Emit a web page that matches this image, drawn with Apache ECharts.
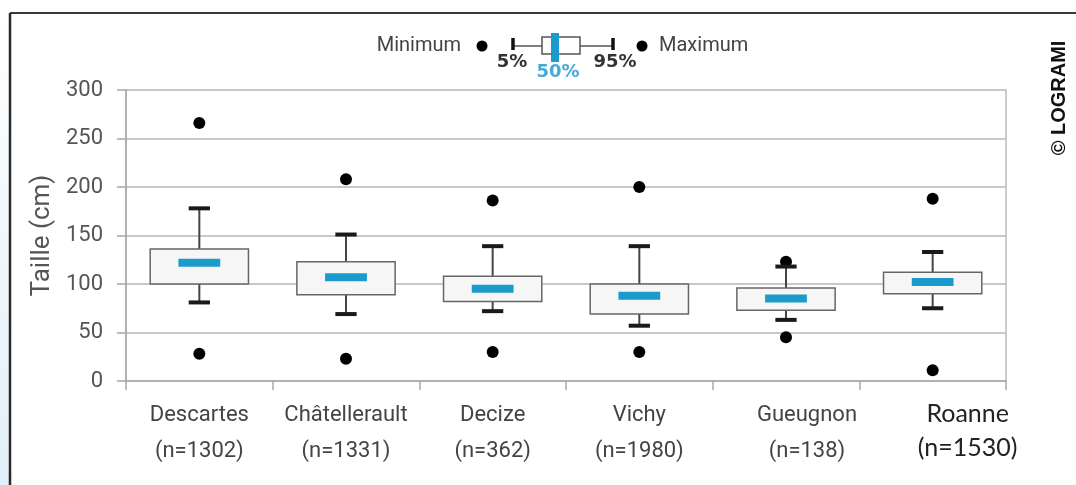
<!DOCTYPE html>
<html>
<head>
<meta charset="utf-8">
<script src="https://cdn.jsdelivr.net/npm/echarts@6/dist/echarts.min.js"></script>
<style>
html,body{margin:0;padding:0;background:#fff;}
#chart{width:1076px;height:485px;}
</style>
</head>
<body>
<div id="chart"></div>
<script>
// ---- data ----
var sites = ['Descartes', 'Châtellerault', 'Decize', 'Vichy', 'Gueugnon', 'Roanne'];
var counts = ['(n=1302)', '(n=1331)', '(n=362)', '(n=1980)', '(n=138)', '(n=1530)'];
var p5     = [81, 69, 72, 57, 63, 75];
var q25    = [100, 89, 82, 69, 73, 90];
var median = [122, 107, 95, 88, 85, 102];
var q75    = [136, 123, 108, 100, 96, 112];
var p95    = [178, 151, 139, 139, 118, 133];
var minimum = [28, 23, 30, 30, 45, 11];
var maximum = [266, 208, 186, 200, 123, 188];
var yTicks = [0, 50, 100, 150, 200, 250, 300];

var boxData = sites.map(function (s, i) {
  return [i, p5[i], q25[i], median[i], q75[i], p95[i]];
});
var dotData = [];
sites.forEach(function (s, i) {
  dotData.push([i, minimum[i]]);
  dotData.push([i, maximum[i]]);
});

var chart = echarts.init(document.getElementById('chart'), null, {renderer: 'canvas'});

function renderBox(params, api) {
  var idx = api.value(0);
  var lo = api.coord([idx, api.value(1)]);
  var q1 = api.coord([idx, api.value(2)]);
  var md = api.coord([idx, api.value(3)]);
  var q3 = api.coord([idx, api.value(4)]);
  var hi = api.coord([idx, api.value(5)]);
  var band = api.size([1, 0])[0];
  var cx = lo[0];
  var bw = band * 0.67, mw = band * 0.285, cw = band * 0.145;
  var wStyle = {stroke: '#444', lineWidth: 2};
  var cStyle = {stroke: '#1a1a1a', lineWidth: 4};
  return {
    type: 'group',
    children: [
      {type: 'line', shape: {x1: cx, y1: lo[1], x2: cx, y2: q1[1]}, style: wStyle},
      {type: 'line', shape: {x1: cx, y1: q3[1], x2: cx, y2: hi[1]}, style: wStyle},
      {type: 'line', shape: {x1: cx - cw / 2, y1: lo[1], x2: cx + cw / 2, y2: lo[1]}, style: cStyle},
      {type: 'line', shape: {x1: cx - cw / 2, y1: hi[1], x2: cx + cw / 2, y2: hi[1]}, style: cStyle},
      {type: 'rect', shape: {x: cx - bw / 2, y: q3[1], width: bw, height: q1[1] - q3[1]},
        style: {fill: '#f6f6f6', stroke: '#666', lineWidth: 1.5}},
      {type: 'rect', shape: {x: cx - mw / 2, y: md[1] - 4, width: mw, height: 8},
        style: {fill: '#1a9bc9'}}
    ]
  };
}

var legendY = 46;
var option = {
  backgroundColor: '#ffffff',
  animation: false,
  grid: {left: 126, right: 70, top: 90, bottom: 104, show: true, borderColor: '#bbbbbb', borderWidth: 1.5, backgroundColor: 'transparent'},
  xAxis: {
    type: 'category',
    data: sites,
    boundaryGap: true,
    axisLine: {lineStyle: {color: '#a8a8a8', width: 1.5}},
    axisTick: {show: true, length: 9, lineStyle: {color: '#a8a8a8', width: 1.5}},
    axisLabel: {
      interval: 0,
      margin: 16,
      fontSize: 22,
      lineHeight: 36,
      fontFamily: 'Roboto',
      color: '#444',
      formatter: function (v, i) {
        if (v === 'Roanne') return '{r|' + v + '}\n{r|' + counts[i] + '}';
        if (v === 'Gueugnon') return '{g|' + v + '}\n{g|' + counts[i] + '}';
        return v + '\n' + counts[i];
      },
      rich: {
        r: {fontSize: 25, lineHeight: 34, fontFamily: 'Lato', color: '#222', padding: [0, 0, 0, 70]},
        g: {fontSize: 22, lineHeight: 36, fontFamily: 'Roboto', color: '#444', padding: [0, 0, 0, 42]}
      }
    }
  },
  yAxis: {
    type: 'value',
    min: 0, max: 300, interval: 50,
    name: 'Taille (cm)',
    nameLocation: 'middle',
    nameRotate: 90,
    nameGap: 50,
    nameTextStyle: {fontSize: 26, fontFamily: 'Roboto', color: '#555'},
    axisLine: {show: true, lineStyle: {color: '#a8a8a8', width: 1.5}},
    axisTick: {show: true, length: 9, lineStyle: {color: '#a8a8a8', width: 1.5}},
    axisLabel: {margin: 23, fontSize: 22, fontFamily: 'Roboto', color: '#555',
      formatter: function (v) { return yTicks.indexOf(v) >= 0 ? String(v) : ''; }},
    splitLine: {show: true, lineStyle: {color: '#c8c8c8', width: 2}}
  },
  series: [
    {
      type: 'scatter',
      data: dotData,
      symbol: 'circle',
      symbolSize: 12,
      itemStyle: {color: '#000', opacity: 1},
      z: 2
    },
    {
      type: 'custom',
      data: boxData,
      renderItem: renderBox,
      encode: {x: 0, y: [1, 2, 3, 4, 5]},
      z: 3
    }
  ],
  graphic: [
    // outer frame + left strip
    {type: 'rect', shape: {x: 0, y: 13, width: 10, height: 472},
      style: {fill: new echarts.graphic.LinearGradient(0, 0, 0, 1, [
        {offset: 0, color: '#ffffff'}, {offset: 0.4, color: '#f3f8fc'}, {offset: 1, color: '#e2eff8'}])}, silent: true},
    {type: 'line', shape: {x1: 10, y1: 13, x2: 1076, y2: 13}, style: {stroke: '#3a3a3a', lineWidth: 2}},
    {type: 'line', shape: {x1: 10, y1: 13, x2: 10, y2: 485}, style: {stroke: '#2a2a2a', lineWidth: 2.5}},
    // legend
    {type: 'text', x: 461, y: legendY, style: {text: 'Minimum', fontSize: 20, fontFamily: 'Roboto', fill: '#444', align: 'right', verticalAlign: 'middle'}},
    {type: 'circle', shape: {cx: 482, cy: legendY, r: 5.5}, style: {fill: '#000'}},
    {type: 'line', shape: {x1: 513, y1: legendY, x2: 542, y2: legendY}, style: {stroke: '#555', lineWidth: 1.5}},
    {type: 'line', shape: {x1: 580, y1: legendY, x2: 613, y2: legendY}, style: {stroke: '#555', lineWidth: 1.5}},
    {type: 'line', shape: {x1: 513, y1: 38, x2: 513, y2: 50}, style: {stroke: '#111', lineWidth: 3.5}},
    {type: 'line', shape: {x1: 613, y1: 38, x2: 613, y2: 50}, style: {stroke: '#111', lineWidth: 3.5}},
    {type: 'rect', shape: {x: 542, y: 37, width: 38, height: 17}, style: {fill: '#fff', stroke: '#555', lineWidth: 1.5}},
    {type: 'rect', shape: {x: 551, y: 33, width: 8, height: 29}, style: {fill: '#1a9bc9'}},
    {type: 'circle', shape: {cx: 642, cy: legendY, r: 5.5}, style: {fill: '#000'}},
    {type: 'text', x: 659, y: legendY, style: {text: 'Maximum', fontSize: 20, fontFamily: 'Roboto', fill: '#444', align: 'left', verticalAlign: 'middle'}},
    {type: 'text', x: 512, y: 62, style: {text: '5%', fontSize: 18, fontWeight: 'bold', fontFamily: 'DejaVu Sans', fill: '#333', align: 'center', verticalAlign: 'middle'}},
    {type: 'text', x: 558, y: 72, style: {text: '50%', fontSize: 18, fontWeight: 'bold', fontFamily: 'DejaVu Sans', fill: '#4aa8d4', align: 'center', verticalAlign: 'middle'}},
    {type: 'text', x: 615, y: 62, style: {text: '95%', fontSize: 18, fontWeight: 'bold', fontFamily: 'DejaVu Sans', fill: '#333', align: 'center', verticalAlign: 'middle'}},
    // copyright
    {type: 'text', x: 1059, y: 98, rotation: Math.PI / 2,
      style: {text: '© LOGRAMI', fontSize: 20, fontWeight: 'bold', fontFamily: 'Liberation Sans', fill: '#111', align: 'center', verticalAlign: 'middle'}}
  ]
};
chart.setOption(option);
</script>
</body>
</html>
